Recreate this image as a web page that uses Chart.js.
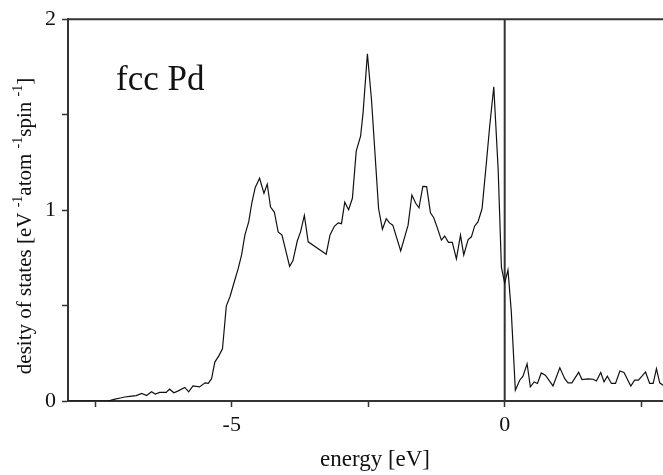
<!DOCTYPE html>
<html>
<head>
<meta charset="utf-8">
<title>fcc Pd density of states</title>
<script src="https://cdn.jsdelivr.net/npm/chart.js@4.4.1/dist/chart.umd.min.js"></script>
<style>
  body { margin: 0; background: #fff; }
  canvas { display: block; }
</style>
</head>
<body>
<canvas id="dosChart" width="663" height="475"></canvas>
<script>
// values
const energy = [
  -8.00, -7.27, -7.14, -7.02, -6.96, -6.87, -6.75, -6.65, -6.56, -6.47,
  -6.40, -6.32, -6.20, -6.14, -6.06, -5.98, -5.86, -5.79, -5.71, -5.59,
  -5.49, -5.43, -5.37, -5.31, -5.24, -5.17, -5.10, -5.03, -4.96, -4.88,
  -4.82, -4.76, -4.69, -4.63, -4.57, -4.49, -4.41, -4.35, -4.29, -4.22,
  -4.15, -4.08, -3.94, -3.88, -3.80, -3.74, -3.67, -3.60, -3.27, -3.20,
  -3.12, -3.05, -2.99, -2.93, -2.86, -2.79, -2.72, -2.64, -2.595, -2.515,
  -2.44, -2.31, -2.24, -2.17, -2.11, -2.05, -1.905, -1.77, -1.70, -1.63,
  -1.57, -1.50, -1.43, -1.36, -1.30, -1.24, -1.16, -1.10, -1.03, -0.96,
  -0.885, -0.81, -0.75, -0.67, -0.61, -0.55, -0.49, -0.415, -0.335, -0.275,
  -0.20, -0.12, -0.06, 0.00, 0.06, 0.12, 0.195, 0.275, 0.335, 0.41,
  0.47, 0.54, 0.60, 0.67, 0.745, 0.885, 1.01, 1.10, 1.16, 1.23,
  1.355, 1.415, 1.525, 1.62, 1.68, 1.76, 1.82, 1.88, 1.955, 2.03,
  2.11, 2.185, 2.31, 2.38, 2.45, 2.515, 2.58, 2.655, 2.72, 2.78,
  2.84, 2.90
];
const dos = [
  0, 0, 0.010, 0.017, 0.021, 0.024, 0.028, 0.040, 0.029, 0.048,
  0.036, 0.045, 0.045, 0.062, 0.043, 0.053, 0.071, 0.048, 0.079, 0.074,
  0.095, 0.092, 0.117, 0.204, 0.235, 0.273, 0.497, 0.549, 0.618, 0.696,
  0.765, 0.869, 0.938, 1.041, 1.119, 1.167, 1.088, 1.136, 1.016, 0.990,
  0.886, 0.869, 0.705, 0.734, 0.838, 0.886, 0.972, 0.834, 0.769, 0.870,
  0.915, 0.933, 0.929, 1.041, 1.002, 1.062, 1.309, 1.387, 1.508, 1.819,
  1.577, 1.007, 0.900, 0.955, 0.933, 0.921, 0.786, 0.921, 1.079, 1.036,
  1.012, 1.124, 1.123, 0.986, 0.960, 0.912, 0.843, 0.864, 0.831, 0.831,
  0.745, 0.869, 0.765, 0.846, 0.860, 0.917, 0.938, 1.007, 1.249, 1.439,
  1.646, 1.214, 0.700, 0.618, 0.687, 0.472, 0.057, 0.109, 0.130, 0.195,
  0.074, 0.100, 0.092, 0.147, 0.135, 0.079, 0.174, 0.117, 0.095, 0.095,
  0.150, 0.112, 0.116, 0.114, 0.105, 0.149, 0.100, 0.130, 0.092, 0.092,
  0.157, 0.149, 0.078, 0.109, 0.109, 0.130, 0.152, 0.092, 0.092, 0.169,
  0.095, 0.083
];

const xRange = [-8, 2.9];
const yRange = [0, 2];
const xTickValues = [-7.5, -5, -2.5, 0, 2.5];
const xTickLabels = ["", "-5", "", "0", ""];
const yTickValues = [0, 0.5, 1, 1.5, 2];
const yTickLabels = ["0", "", "1", "", "2"];

const SERIF = "'Liberation Serif', 'Times New Roman', serif";
const AXIS_COLOR = "#333";

// axis titles and the "fcc Pd" note, drawn after the chart
const labelsPlugin = {
    id: "labelsPlugin",
    afterDraw(chart) {
        const ctx = chart.ctx;
        ctx.save();
        ctx.fillStyle = "#111";

        ctx.font = "35px " + SERIF;
        ctx.textAlign = "left";
        ctx.textBaseline = "alphabetic";
        ctx.fillText("fcc Pd", 116, 90);

        ctx.font = "23px " + SERIF;
        ctx.textAlign = "center";
        ctx.fillText("energy [eV]", 375, 466);

        // y title with raised superscripts
        const parts = [
            ["desity of states [eV ", false],
            ["-1", true],
            ["atom ", false],
            ["-1", true],
            ["spin ", false],
            ["-1", true],
            ["]", false]
        ];
        const big = "21px " + SERIF;
        const small = "14px " + SERIF;
        let total = 0;
        parts.forEach(([t, sup]) => {
            ctx.font = sup ? small : big;
            total += ctx.measureText(t).width;
        });
        ctx.translate(31, 226);
        ctx.rotate(-Math.PI / 2);
        ctx.textAlign = "left";
        let pos = -total / 2;
        parts.forEach(([t, sup]) => {
            ctx.font = sup ? small : big;
            ctx.fillText(t, pos, sup ? -9 : 0);
            pos += ctx.measureText(t).width;
        });
        ctx.restore();
    }
};

const ctx = document.getElementById("dosChart").getContext("2d");

new Chart(ctx, {
    type: "line",
    data: {
        datasets: [
            {
                label: "DOS",
                data: energy.map((e, i) => ({ x: e, y: dos[i] })),
                borderColor: "#111",
                borderWidth: 1.2,
                pointRadius: 0,
                tension: 0,
                fill: false
            },
            {
                // Fermi level
                label: "EF",
                data: [{ x: 0, y: yRange[0] }, { x: 0, y: yRange[1] }],
                borderColor: AXIS_COLOR,
                borderWidth: 2,
                pointRadius: 0,
                clip: false
            },
            {
                // top frame line
                label: "top",
                data: [{ x: xRange[0], y: yRange[1] }, { x: xRange[1], y: yRange[1] }],
                borderColor: AXIS_COLOR,
                borderWidth: 2,
                pointRadius: 0,
                clip: false
            }
        ]
    },
    options: {
        responsive: false,
        animation: false,
        layout: { padding: { top: 15, right: 0, left: 0, bottom: 0 } },
        plugins: {
            legend: { display: false },
            tooltip: { enabled: false }
        },
        scales: {
            x: {
                type: "linear",
                min: xRange[0],
                max: xRange[1],
                afterBuildTicks: (scale) => {
                    scale.ticks = xTickValues.map((v) => ({ value: v }));
                },
                afterFit: (scale) => { scale.height = 74; },
                ticks: {
                    autoSkip: false,
                    maxRotation: 0,
                    padding: 5,
                    color: "#111",
                    font: { family: SERIF, size: 22 },
                    callback: (value, index) => xTickLabels[index]
                },
                grid: {
                    drawOnChartArea: false,
                    drawTicks: true,
                    tickLength: 6,
                    tickColor: AXIS_COLOR,
                    tickWidth: 1.5
                },
                border: { color: AXIS_COLOR, width: 2 }
            },
            y: {
                type: "linear",
                min: yRange[0],
                max: yRange[1],
                afterBuildTicks: (scale) => {
                    scale.ticks = yTickValues.map((v) => ({ value: v }));
                },
                afterFit: (scale) => { scale.width = 68; },
                ticks: {
                    autoSkip: false,
                    padding: 6,
                    color: "#111",
                    font: { family: SERIF, size: 22 },
                    callback: (value, index) => yTickLabels[index]
                },
                grid: {
                    drawOnChartArea: false,
                    drawTicks: true,
                    tickLength: 6,
                    tickColor: AXIS_COLOR,
                    tickWidth: 1.5
                },
                border: { color: AXIS_COLOR, width: 2 }
            }
        }
    },
    plugins: [labelsPlugin]
});
</script>
</body>
</html>
